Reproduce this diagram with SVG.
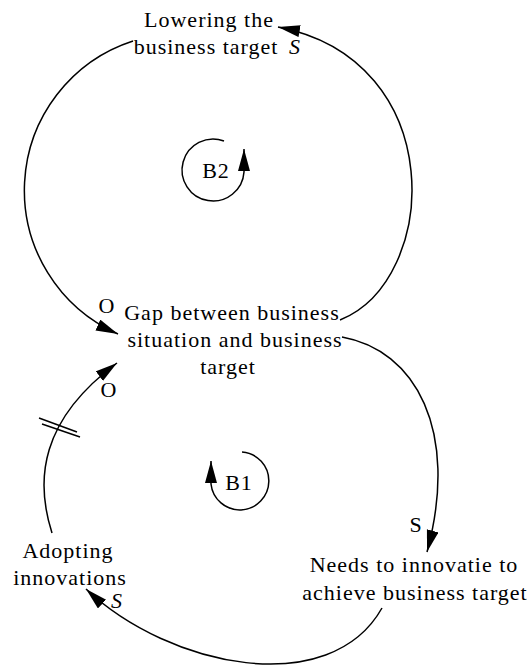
<svg xmlns="http://www.w3.org/2000/svg" width="530" height="670" viewBox="0 0 530 670">
<style>
text{font-family:"Liberation Serif","Times New Roman",serif;font-size:22px;fill:#000;letter-spacing:1px;text-anchor:middle}
.it{font-style:italic}
.c{fill:none;stroke:#000;stroke-width:1.5}
</style>
<defs>
<marker id="ah" markerUnits="userSpaceOnUse" markerWidth="24" markerHeight="14" refX="22" refY="6" orient="auto">
<path d="M0,0 L22,6 L0,12 z" fill="#000"/>
</marker>
</defs>
<rect width="530" height="670" fill="#fff"/>
<g id="connectors">
<path class="c" d="M340 320 C440 280 450 60 278 27" marker-end="url(#ah)"/>
<path class="c" d="M133 41 A157 157 0 0 0 118 334" marker-end="url(#ah)"/>
<path class="c" d="M342 337 C415 350 460 430 427 552" marker-end="url(#ah)"/>
<path class="c" d="M382 608 C330 700 170 668 86 589" marker-end="url(#ah)"/>
<path class="c" d="M52 533 C35 480 40 420 117 363" marker-end="url(#ah)"/>
<line class="c" x1="39" y1="418" x2="77" y2="432"/>
<line class="c" x1="42" y1="424" x2="80" y2="437"/>
<text x="107" y="313">O</text>
<text x="109" y="397">O</text>
<text class="it" x="295" y="54">S</text>
<text x="416" y="532">S</text>
<text class="it" x="117" y="608">S</text>
</g>
<g id="lowering">
<text x="209" y="27">Lowering the</text>
<text x="206" y="54">business target</text>
</g>
<g id="gap">
<text x="232" y="320">Gap between business</text>
<text x="235" y="347">situation and business</text>
<text x="228" y="374">target</text>
</g>
<g id="adopting">
<text x="68" y="558">Adopting</text>
<text x="70" y="585">innovations</text>
</g>
<g id="needs">
<text x="414" y="572">Needs to innovatie to</text>
<text x="415" y="600">achieve business target</text>
</g>
<g id="loopB2">
<path class="c" d="M224 141 A31 31 0 1 0 244 172 L244 149" marker-end="url(#ah)"/>
<text x="216" y="178">B2</text>
</g>
<g id="loopB1">
<path class="c" d="M242 452 A29 29 0 1 1 211 484 L211 461" marker-end="url(#ah)"/>
<text x="239" y="490">B1</text>
</g>
</svg>
